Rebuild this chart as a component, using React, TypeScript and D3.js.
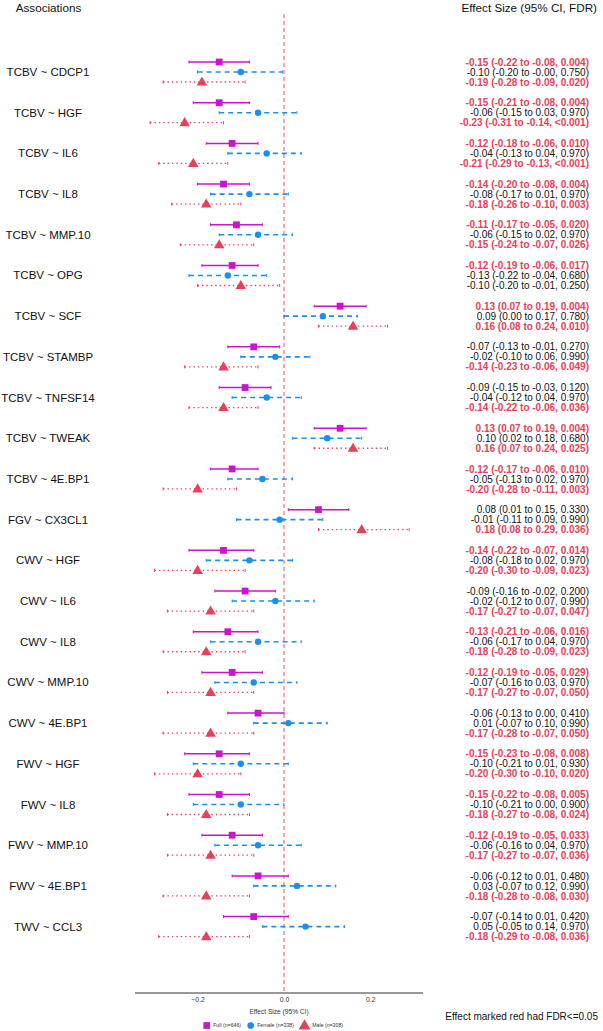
import React, { useEffect, useRef } from "react";
import * as d3 from "d3";

const associations = [
  "TCBV ~ CDCP1", "TCBV ~ HGF", "TCBV ~ IL6", "TCBV ~ IL8", "TCBV ~ MMP.10", "TCBV ~ OPG",
  "TCBV ~ SCF", "TCBV ~ STAMBP", "TCBV ~ TNFSF14", "TCBV ~ TWEAK", "TCBV ~ 4E.BP1",
  "FGV ~ CX3CL1", "CWV ~ HGF", "CWV ~ IL6", "CWV ~ IL8", "CWV ~ MMP.10", "CWV ~ 4E.BP1",
  "FWV ~ HGF", "FWV ~ IL8", "FWV ~ MMP.10", "FWV ~ 4E.BP1", "TWV ~ CCL3",
];

const fullEst = [-0.15, -0.15, -0.12, -0.14, -0.11, -0.12, 0.13, -0.07, -0.09, 0.13, -0.12, 0.08, -0.14, -0.09, -0.13, -0.12, -0.06, -0.15, -0.15, -0.12, -0.06, -0.07];
const fullLo = [-0.22, -0.21, -0.18, -0.20, -0.17, -0.19, 0.07, -0.13, -0.15, 0.07, -0.17, 0.01, -0.22, -0.16, -0.21, -0.19, -0.13, -0.23, -0.22, -0.19, -0.12, -0.14];
const fullHi = [-0.08, -0.08, -0.06, -0.08, -0.05, -0.06, 0.19, -0.01, -0.03, 0.19, -0.06, 0.15, -0.07, -0.02, -0.06, -0.05, 0.00, -0.08, -0.08, -0.05, 0.01, 0.01];
const fullFdr = ["0.004", "0.004", "0.010", "0.004", "0.020", "0.017", "0.004", "0.270", "0.120", "0.004", "0.010", "0.330", "0.014", "0.200", "0.016", "0.029", "0.410", "0.008", "0.005", "0.033", "0.480", "0.420"];

const femaleEst = [-0.10, -0.06, -0.04, -0.08, -0.06, -0.13, 0.09, -0.02, -0.04, 0.10, -0.05, -0.01, -0.08, -0.02, -0.06, -0.07, 0.01, -0.10, -0.10, -0.06, 0.03, 0.05];
const femaleLo = [-0.20, -0.15, -0.13, -0.17, -0.15, -0.22, 0.00, -0.10, -0.12, 0.02, -0.13, -0.11, -0.18, -0.12, -0.17, -0.16, -0.07, -0.21, -0.21, -0.16, -0.07, -0.05];
const femaleHi = [-0.004, 0.03, 0.04, 0.01, 0.02, -0.04, 0.17, 0.06, 0.04, 0.18, 0.02, 0.09, 0.02, 0.07, 0.04, 0.03, 0.10, 0.01, 0.00, 0.04, 0.12, 0.14];
const femaleFdr = ["0.750", "0.970", "0.970", "0.970", "0.970", "0.680", "0.780", "0.990", "0.970", "0.680", "0.970", "0.990", "0.970", "0.990", "0.970", "0.970", "0.990", "0.930", "0.900", "0.970", "0.990", "0.970"];

const maleEst = [-0.19, -0.23, -0.21, -0.18, -0.15, -0.10, 0.16, -0.14, -0.14, 0.16, -0.20, 0.18, -0.20, -0.17, -0.18, -0.17, -0.17, -0.20, -0.18, -0.17, -0.18, -0.18];
const maleLo = [-0.28, -0.31, -0.29, -0.26, -0.24, -0.20, 0.08, -0.23, -0.22, 0.07, -0.28, 0.08, -0.30, -0.27, -0.28, -0.27, -0.28, -0.30, -0.27, -0.27, -0.28, -0.29];
const maleHi = [-0.09, -0.14, -0.13, -0.10, -0.07, -0.01, 0.24, -0.06, -0.06, 0.24, -0.11, 0.29, -0.09, -0.07, -0.09, -0.07, -0.07, -0.10, -0.08, -0.07, -0.08, -0.08];
const maleFdr = ["0.020", "<0.001", "<0.001", "0.003", "0.026", "0.250", "0.010", "0.049", "0.036", "0.025", "0.003", "0.036", "0.023", "0.047", "0.023", "0.050", "0.050", "0.020", "0.024", "0.036", "0.030", "0.036"];

const xTicks = [-0.2, 0.0, 0.2];
const legendLabels = ["Full (n=646)", "Female (n=338)", "Male (n=308)"];

const FONT = "'Liberation Sans', Arial, Helvetica, sans-serif";
const RED = "#E8405A";
const groups = [
  { key: "full", est: fullEst, lo: fullLo, hi: fullHi, fdr: fullFdr, color: "#CC14CC", dash: null, width: 1.5, offset: -10, shape: "square" },
  { key: "female", est: femaleEst, lo: femaleLo, hi: femaleHi, fdr: femaleFdr, color: "#1A8FEF", dash: "5,4", width: 1.6, offset: 0, shape: "circle" },
  { key: "male", est: maleEst, lo: maleLo, hi: maleHi, fdr: maleFdr, color: "#E8405A", dash: "1.4,3", width: 1.3, offset: 10, shape: "triangle" },
];

const fmt = (v: number) => v.toFixed(2);
const fdrNum = (s: string) => (s.startsWith("<") ? 0 : parseFloat(s));

function Marker({ shape, x, y, color, s }: { shape: string; x: number; y: number; color: string; s: number }) {
  if (shape === "square") return <rect x={x - s / 2} y={y - s / 2} width={s} height={s} fill={color} />;
  if (shape === "circle") return <circle cx={x} cy={y} r={s / 2} fill={color} />;
  const sym = d3.symbol(d3.symbolTriangle, s * s * 0.75)();
  return <path d={sym as string} transform={`translate(${x},${y + 0.5})`} fill={color} />;
}

export default function App() {
  const axisRef = useRef<SVGGElement>(null);
  const x = d3.scaleLinear().domain([-0.345, 0.322]).range([135, 423]);
  const y = d3.scalePoint<string>().domain(associations).range([72, 926.6]);
  const axisY = 993;

  useEffect(() => {
    if (!axisRef.current) return;
    const g = d3.select(axisRef.current);
    g.selectAll("*").remove();
    g.call(
      d3.axisBottom(x).tickValues(xTicks).tickFormat(d3.format(".1f")).tickSize(0).tickPadding(4)
    );
    g.select(".domain").attr("stroke", "#333").attr("stroke-width", 1).attr("d", `M${x.range()[0]},0H${x.range()[1]}`);
    g.selectAll("text").attr("font-family", FONT).attr("font-size", 6.8).attr("fill", "#333");
  }, []);

  return (
    <svg width={603} height={1031} style={{ position: "absolute", left: 0, top: 0, background: "#fff" }} fontFamily={FONT}>
      <text x={48.5} y={12} fontSize={11.7} textAnchor="middle" fill="#111">Associations</text>
      <text x={597} y={12} fontSize={11.7} textAnchor="end" fill="#111">Effect Size (95% CI, FDR)</text>

      <line x1={x(0)} x2={x(0)} y1={14} y2={axisY} stroke="#FF7777" strokeWidth={1.3} strokeDasharray="4,3" />

      {associations.map((a) => (
        <text key={a} x={48} y={(y(a) as number) + 4} fontSize={11.5} textAnchor="middle" fill="#111">{a}</text>
      ))}

      {groups.map((g) =>
        associations.map((a, i) => {
          const yy = (y(a) as number) + g.offset;
          return (
            <g key={g.key + i}>
              <line x1={x(g.lo[i])} x2={x(g.hi[i])} y1={yy} y2={yy} stroke={g.color} strokeWidth={g.width} strokeDasharray={g.dash ?? undefined} />
              <line x1={x(g.lo[i])} x2={x(g.lo[i])} y1={yy - 1.5} y2={yy + 1.5} stroke={g.color} strokeWidth={1} />
              <line x1={x(g.hi[i])} x2={x(g.hi[i])} y1={yy - 1.5} y2={yy + 1.5} stroke={g.color} strokeWidth={1} />
              <Marker shape={g.shape} x={x(g.est[i])} y={yy} color={g.color} s={g.shape === "triangle" ? 8 : g.shape === "square" ? 6.8 : 6.4} />
            </g>
          );
        })
      )}

      {groups.map((g) =>
        associations.map((a, i) => {
          const red = fdrNum(g.fdr[i]) <= 0.05;
          return (
            <text key={"t" + g.key + i} x={589} y={(y(a) as number) + g.offset + 3.6} fontSize={10} textAnchor="end"
              fill={red ? RED : "#111"} fontWeight={red ? "bold" : "normal"}>
              {`${fmt(g.est[i])} (${fmt(g.lo[i])} to ${fmt(g.hi[i])}, ${g.fdr[i]})`}
            </text>
          );
        })
      )}

      <g ref={axisRef} transform={`translate(0,${axisY})`} />
      <text x={(x.range()[0] + x.range()[1]) / 2} y={1013.5} fontSize={6.6} textAnchor="middle" fill="#333">Effect Size (95% CI)</text>

      {legendLabels.map((l, i) => {
        const mx = [206.7, 250.7, 304.5][i];
        const g = groups[i];
        return (
          <g key={l}>
            <Marker shape={g.shape} x={mx} y={1025.5} color={g.color} s={g.shape === "triangle" ? 9 : 6.7} />
            <text x={mx + (i === 2 ? 7.8 : 6.5)} y={1027.3} fontSize={5.2} fill="#333">{l}</text>
          </g>
        );
      })}

      <text x={598} y={1019.5} fontSize={10} textAnchor="end" fill="#111">Effect marked red had FDR&lt;=0.05</text>
    </svg>
  );
}
